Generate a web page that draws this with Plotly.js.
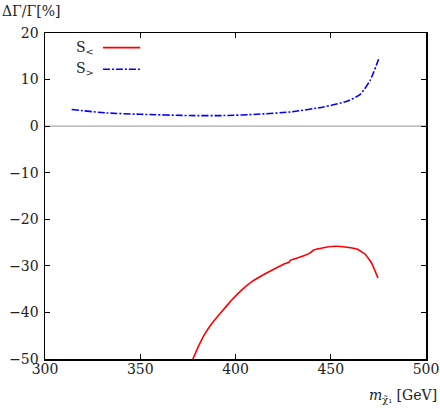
<!DOCTYPE html>
<html>
<head>
<meta charset="utf-8">
<script src="https://cdn.plot.ly/plotly-3.0.1.min.js"></script>
<style>html,body{margin:0;padding:0;background:#fff;}#chart{width:440px;height:409px;}</style>
</head>
<body>
<div id="chart"></div>
<script>
// S< series (red)
const xLess = [377.6, 380.4, 383.9, 388.3, 392.6, 397.9, 403.2, 408.6, 415.6, 422.6, 426.1, 428.2, 428.7, 434.0, 439.2, 441.0, 446.2, 452.4, 458.5, 463.8, 468.1, 471.6, 474.8];
const yLess = [-50.0, -47.4, -44.6, -42.0, -39.9, -37.4, -35.2, -33.4, -31.7, -30.2, -29.5, -29.2, -28.8, -28.1, -27.2, -26.6, -26.1, -25.8, -26.0, -26.4, -27.5, -29.5, -32.6];
// S> series (blue)
const xGreater = [314.0, 332.4, 349.9, 376.2, 393.7, 411.2, 428.7, 446.2, 458.5, 465.5, 470.7, 475.1];
const yGreater = [3.56, 2.83, 2.55, 2.27, 2.27, 2.55, 3.05, 4.12, 5.34, 6.84, 9.85, 14.35];
const xTicks = [300, 350, 400, 450, 500];
const yTicks = [-50, -40, -30, -20, -10, 0, 10, 20];

const font = {family: 'DejaVu Serif, Liberation Serif, serif', size: 14, color: '#222'};

const traces = [
  {x: xLess, y: yLess, mode: 'lines', line: {color: '#ff0000', width: 1.6, shape: 'spline', smoothing: 0.2}, showlegend: false},
  {x: xGreater, y: yGreater, mode: 'lines', line: {color: '#0000ff', width: 1.6, dash: '7px,2px,2px,2px', shape: 'spline', smoothing: 0.6}, showlegend: false}
];

const axisCommon = {
  showgrid: false, zeroline: false, showline: true, linecolor: '#000', linewidth: 1.5,
  mirror: 'allticks', ticks: 'inside', ticklen: 5, tickwidth: 1.2, tickcolor: '#000',
  tickfont: font
};

const layout = {
  width: 440, height: 409,
  margin: {l: 45, r: 14, t: 33, b: 50},
  paper_bgcolor: '#fff', plot_bgcolor: '#fff',
  font: font,
  showlegend: false,
  xaxis: Object.assign({}, axisCommon, {range: [300, 500], tickvals: xTicks, ticktext: xTicks.map(String), ticklabelstandoff: -3}),
  yaxis: Object.assign({}, axisCommon, {range: [-50, 20], tickvals: yTicks, ticktext: yTicks.map(v => v < 0 ? '\u2212' + Math.abs(v) : String(v)), ticklabelstandoff: 2}),
  shapes: [
    {type: 'line', xref: 'paper', yref: 'y', x0: 0, x1: 1, y0: 0, y1: 0, line: {color: '#aaaaaa', width: 1.3}, layer: 'below'},
    {type: 'line', xref: 'paper', yref: 'paper', x0: 0.152, x1: 0.25, y0: 0.955, y1: 0.955, line: {color: '#ff0000', width: 1.6}},
    {type: 'line', xref: 'paper', yref: 'paper', x0: 0.152, x1: 0.25, y0: 0.889, y1: 0.889, line: {color: '#0000ff', width: 1.6, dash: '7px,2px,2px,2px'}}
  ],
  annotations: [
    {text: 'S<sub><</sub>', xref: 'paper', yref: 'paper', x: 0.135, y: 0.955, xanchor: 'right', yanchor: 'middle', showarrow: false, font: font},
    {text: 'S<sub>></sub>', xref: 'paper', yref: 'paper', x: 0.135, y: 0.889, xanchor: 'right', yanchor: 'middle', showarrow: false, font: font},
    {text: '\u0394\u0393/\u0393[%]', xref: 'paper', yref: 'paper', x: -0.118, y: 1.068, xanchor: 'left', yanchor: 'middle', showarrow: false, font: font},
    {text: '<i>m</i><sub>\u03C7\u0303\u2081</sub> [GeV]', xref: 'paper', yref: 'paper', x: 1.035, y: -0.08, xanchor: 'right', yanchor: 'top', showarrow: false, font: font}
  ]
};

Plotly.newPlot('chart', traces, layout, {staticPlot: true, displayModeBar: false});
</script>
</body>
</html>
